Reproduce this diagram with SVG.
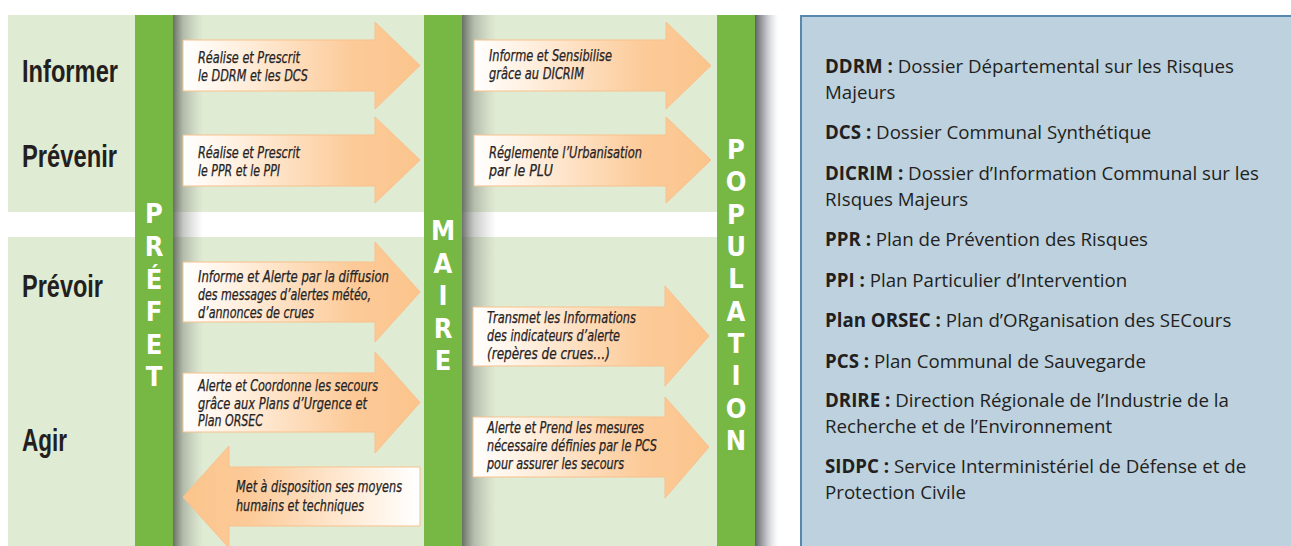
<svg xmlns="http://www.w3.org/2000/svg" width="1291" height="546" viewBox="0 0 1291 546">
<defs>
<linearGradient id="gR" x1="0" y1="0" x2="1" y2="0">
<stop offset="0" stop-color="#ffffff"/>
<stop offset="0.2" stop-color="#fff2e4"/>
<stop offset="0.72" stop-color="#fcca98"/>
<stop offset="1" stop-color="#fbc48c"/>
</linearGradient>
<linearGradient id="gL" x1="1" y1="0" x2="0" y2="0">
<stop offset="0" stop-color="#ffffff"/>
<stop offset="0.2" stop-color="#fff2e4"/>
<stop offset="0.72" stop-color="#fcca98"/>
<stop offset="1" stop-color="#fbc48c"/>
</linearGradient>
<linearGradient id="sh" x1="0" y1="0" x2="1" y2="0">
<stop offset="0" stop-color="#4a4f4a" stop-opacity="0.8"/>
<stop offset="0.35" stop-color="#6a6f6a" stop-opacity="0.38"/>
<stop offset="1" stop-color="#8a8f8a" stop-opacity="0"/>
</linearGradient>
<linearGradient id="shP" x1="0" y1="0" x2="1" y2="0">
<stop offset="0" stop-color="#55585e" stop-opacity="0.95"/>
<stop offset="0.4" stop-color="#7c7f85" stop-opacity="0.6"/>
<stop offset="1" stop-color="#d0d2d5" stop-opacity="0"/>
</linearGradient>
</defs>
<style>
.arr{stroke:#f7c18c;stroke-width:1}
.at{font-family:"DejaVu Sans Condensed","Liberation Sans",sans-serif;font-stretch:condensed;font-style:italic;font-size:15px;fill:#262324;stroke:#262324;stroke-width:0.25}
.lab{font-family:"Liberation Sans",sans-serif;font-weight:bold;font-size:32px;fill:#231f20}
.bar{fill:#76b843}
.bt{font-family:"DejaVu Sans Condensed","Liberation Sans",sans-serif;font-stretch:condensed;font-weight:bold;font-size:27px;fill:#ffffff;text-anchor:middle}
.lg{font-family:"Open Sans","Noto Sans","Liberation Sans",sans-serif;font-size:18.7px;fill:#231f20}
.lg tspan.b{font-weight:bold}
</style>
<rect width="1291" height="546" fill="#ffffff"/>
<g id="panel">
<rect x="8" y="15" width="747" height="531" fill="#e0ebd3"/>
<rect x="8" y="212" width="709" height="25" fill="#ffffff"/>
<rect x="173" y="15" width="30" height="531" fill="url(#sh)"/>
<rect x="462" y="15" width="34" height="531" fill="url(#sh)"/>
<rect x="755" y="15" width="24" height="531" fill="url(#shP)"/>
</g>
<g id="row-labels">
<text class="lab" x="22" y="82" textLength="96" lengthAdjust="spacingAndGlyphs">Informer</text>
<text class="lab" x="22" y="167" textLength="95" lengthAdjust="spacingAndGlyphs">Prévenir</text>
<text class="lab" x="22" y="297" textLength="81" lengthAdjust="spacingAndGlyphs">Prévoir</text>
<text class="lab" x="22" y="451" textLength="45" lengthAdjust="spacingAndGlyphs">Agir</text>
</g>
<g id="prefet">
<rect class="bar" x="135" y="15" width="38" height="531"/>
<text class="bt"><tspan x="154" y="223">P</tspan><tspan x="154" y="256">R</tspan><tspan x="154" y="289">É</tspan><tspan x="154" y="321">F</tspan><tspan x="154" y="354">E</tspan><tspan x="154" y="386">T</tspan></text>
</g>
<g id="maire">
<rect class="bar" x="424" y="15" width="38" height="531"/>
<text class="bt"><tspan x="443" y="240">M</tspan><tspan x="443" y="273">A</tspan><tspan x="443" y="305">I</tspan><tspan x="443" y="338">R</tspan><tspan x="443" y="370">E</tspan></text>
</g>
<g id="population">
<rect class="bar" x="717" y="15" width="38" height="531"/>
<text class="bt"><tspan x="736" y="159">P</tspan><tspan x="736" y="191">O</tspan><tspan x="736" y="224">P</tspan><tspan x="736" y="256">U</tspan><tspan x="736" y="288">L</tspan><tspan x="736" y="321">A</tspan><tspan x="736" y="353">T</tspan><tspan x="736" y="385">I</tspan><tspan x="736" y="418">O</tspan><tspan x="736" y="450">N</tspan></text>
</g>
<g id="connectors">
<g id="a-prefet-informer">
<path class="arr" fill="url(#gR)" d="M183,40 H375 V22 L420,65.5 L375,109 V91 H183 Z"/>
<text class="at" x="198" y="63" textLength="102" lengthAdjust="spacingAndGlyphs">Réalise et Prescrit</text>
<text class="at" x="198" y="81" textLength="110" lengthAdjust="spacingAndGlyphs">le DDRM et les DCS</text>
</g>
<g id="a-prefet-prevenir">
<path class="arr" fill="url(#gR)" d="M183,135 H375 V117 L420,160 L375,203 V186 H183 Z"/>
<text class="at" x="198" y="158" textLength="102" lengthAdjust="spacingAndGlyphs">Réalise et Prescrit</text>
<text class="at" x="198" y="176" textLength="82" lengthAdjust="spacingAndGlyphs">le PPR et le PPI</text>
</g>
<g id="a-prefet-prevoir">
<path class="arr" fill="url(#gR)" d="M183,262 H375 V242 L420,292 L375,342 V322 H183 Z"/>
<text class="at" x="198" y="282" textLength="191" lengthAdjust="spacingAndGlyphs">Informe et Alerte par la diffusion</text>
<text class="at" x="198" y="300" textLength="173" lengthAdjust="spacingAndGlyphs">des messages d’alertes météo,</text>
<text class="at" x="198" y="318" textLength="116" lengthAdjust="spacingAndGlyphs">d’annonces de crues</text>
</g>
<g id="a-prefet-agir">
<path class="arr" fill="url(#gR)" d="M183,373 H375 V352 L420,402.5 L375,453 V432 H183 Z"/>
<text class="at" x="198" y="391" textLength="180" lengthAdjust="spacingAndGlyphs">Alerte et Coordonne les secours</text>
<text class="at" x="198" y="409" textLength="169" lengthAdjust="spacingAndGlyphs">grâce aux Plans d’Urgence et</text>
<text class="at" x="198" y="426" textLength="65" lengthAdjust="spacingAndGlyphs">Plan ORSEC</text>
</g>
<g id="a-maire-prefet">
<path class="arr" fill="url(#gL)" d="M420,467 H229 V446 L183,497 L229,548 V526 H420 Z"/>
<text class="at" x="236" y="492" textLength="166" lengthAdjust="spacingAndGlyphs">Met à disposition ses moyens</text>
<text class="at" x="236" y="511" textLength="128" lengthAdjust="spacingAndGlyphs">humains et techniques</text>
</g>
<g id="a-maire-informer">
<path class="arr" fill="url(#gR)" d="M474,40 H666 V22 L711,65.5 L666,109 V91 H474 Z"/>
<text class="at" x="489" y="61" textLength="123" lengthAdjust="spacingAndGlyphs">Informe et Sensibilise</text>
<text class="at" x="489" y="79" textLength="95" lengthAdjust="spacingAndGlyphs">grâce au DICRIM</text>
</g>
<g id="a-maire-prevenir">
<path class="arr" fill="url(#gR)" d="M474,135 H666 V117 L711,160 L666,203 V186 H474 Z"/>
<text class="at" x="489" y="158" textLength="153" lengthAdjust="spacingAndGlyphs">Réglemente l’Urbanisation</text>
<text class="at" x="489" y="176" textLength="64" lengthAdjust="spacingAndGlyphs">par le PLU</text>
</g>
<g id="a-maire-prevoir">
<path class="arr" fill="url(#gR)" d="M473,307 H665 V286 L709,336 L665,386 V366 H473 Z"/>
<text class="at" x="487" y="323" textLength="149" lengthAdjust="spacingAndGlyphs">Transmet les Informations</text>
<text class="at" x="487" y="341" textLength="133" lengthAdjust="spacingAndGlyphs">des indicateurs d’alerte</text>
<text class="at" x="487" y="359" textLength="123" lengthAdjust="spacingAndGlyphs">(repères de crues…)</text>
</g>
<g id="a-maire-agir">
<path class="arr" fill="url(#gR)" d="M473,417 H665 V397 L709,447 L665,498 V477 H473 Z"/>
<text class="at" x="487" y="433" textLength="157" lengthAdjust="spacingAndGlyphs">Alerte et Prend les mesures</text>
<text class="at" x="487" y="451" textLength="170" lengthAdjust="spacingAndGlyphs">nécessaire définies par le PCS</text>
<text class="at" x="487" y="469" textLength="137" lengthAdjust="spacingAndGlyphs">pour assurer les secours</text>
</g>
</g>
<g id="legend">
<rect x="801" y="16" width="492" height="540" fill="#bdd1df" stroke="#5689ad" stroke-width="2"/>
<text class="lg"><tspan x="825" y="73"><tspan class="b">DDRM :</tspan> Dossier Départemental sur les Risques</tspan><tspan x="825" y="99">Majeurs</tspan></text>
<text class="lg" x="825" y="139"><tspan class="b">DCS :</tspan> Dossier Communal Synthétique</text>
<text class="lg"><tspan x="825" y="180"><tspan class="b">DICRIM :</tspan> Dossier d’Information Communal sur les</tspan><tspan x="825" y="206">RIsques Majeurs</tspan></text>
<text class="lg" x="825" y="246"><tspan class="b">PPR :</tspan> Plan de Prévention des Risques</text>
<text class="lg" x="825" y="287"><tspan class="b">PPI :</tspan> Plan Particulier d’Intervention</text>
<text class="lg" x="825" y="327"><tspan class="b">Plan ORSEC :</tspan> Plan d’ORganisation des SECours</text>
<text class="lg" x="825" y="368"><tspan class="b">PCS :</tspan> Plan Communal de Sauvegarde</text>
<text class="lg"><tspan x="825" y="407"><tspan class="b">DRIRE :</tspan> Direction Régionale de l’Industrie de la</tspan><tspan x="825" y="433">Recherche et de l’Environnement</tspan></text>
<text class="lg"><tspan x="825" y="473"><tspan class="b">SIDPC :</tspan> Service Interministériel de Défense et de</tspan><tspan x="825" y="499">Protection Civile</tspan></text>
</g>
</svg>
